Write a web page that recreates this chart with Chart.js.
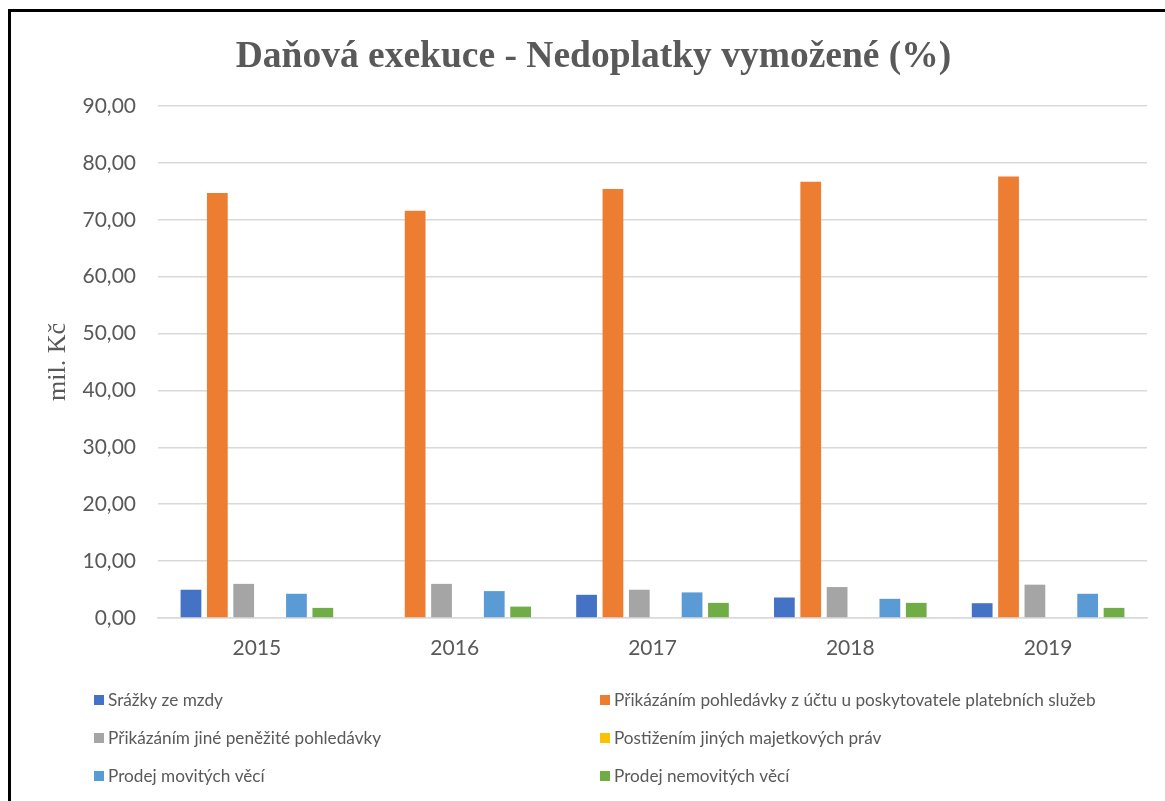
<!DOCTYPE html>
<html>
<head>
<meta charset="utf-8">
<title>Daňová exekuce - Nedoplatky vymožené (%)</title>
<script src="https://cdn.jsdelivr.net/npm/chart.js@4.4.1/dist/chart.umd.min.js"></script>
<style>
  html, body { margin: 0; padding: 0; background: #ffffff; }
  #wrap { position: relative; width: 1165px; height: 801px; overflow: hidden; }
  #wrap canvas { position: absolute; left: 0; top: 0; }
  #frame {
    position: absolute; left: 8px; top: 9px; right: -10px; bottom: -10px;
    border-top: 3px solid #000; border-left: 3px solid #000;
    pointer-events: none;
  }
</style>
</head>
<body>
<div id="wrap">
  <canvas id="chart" width="1165" height="801"></canvas>
  <div id="frame"></div>
</div>
<script>
// Years on the category axis
const years = ['2015', '2016', '2017', '2018', '2019'];

// Recovered arrears by enforcement method (mil. Kč)
const srazkyZeMzdy         = [4.97, 0, 4.08, 3.60, 2.60];
const prikazUctu           = [74.7, 71.6, 75.4, 76.7, 77.6];
const prikazJinePohledavky = [6.00, 6.00, 4.97, 5.44, 5.86];
const postizeniPrav        = [0, 0, 0, 0, 0];
const prodejMovitych       = [4.26, 4.73, 4.50, 3.37, 4.26];
const prodejNemovitych     = [1.78, 2.00, 2.66, 2.66, 1.78];

// Series names
const seriesNames = [
  'Srážky ze mzdy',
  'Přikázáním pohledávky z účtu u poskytovatele platebních služeb',
  'Přikázáním jiné peněžité pohledávky',
  'Postižením jiných majetkových práv',
  'Prodej movitých věcí',
  'Prodej nemovitých věcí'
];

// Value axis range
const yMin = 0, yMax = 90, yStep = 10;

const seriesColors = ['#4472C4', '#ED7D31', '#A5A5A5', '#FFC000', '#5B9BD5', '#70AD47'];
const seriesValues = [srazkyZeMzdy, prikazUctu, prikazJinePohledavky, postizeniPrav, prodejMovitych, prodejNemovitych];

const textGrey = '#595959';
const gridGrey = '#D9D9D9';

// Legend laid out in two columns, filled row by row
const twoColumnLegend = {
  id: 'twoColumnLegend',
  afterDraw(chart, args, opts) {
    const ctx = chart.ctx;
    ctx.save();
    ctx.font = opts.font;
    ctx.textBaseline = 'middle';
    ctx.textAlign = 'left';
    chart.data.datasets.forEach((ds, i) => {
      const x = opts.columns[i % 2];
      const y = opts.rows[Math.floor(i / 2)];
      ctx.fillStyle = ds.backgroundColor;
      ctx.fillRect(x, y - opts.box / 2, opts.box, opts.box);
      ctx.fillStyle = opts.color;
      ctx.fillText(ds.label, x + opts.box + opts.gap, y);
    });
    ctx.restore();
  }
};

Chart.defaults.font.family = 'Lato, "Open Sans", sans-serif';

new Chart(document.getElementById('chart'), {
  type: 'bar',
  data: {
    labels: years,
    datasets: seriesNames.map((name, i) => ({
      label: name,
      data: seriesValues[i],
      backgroundColor: seriesColors[i],
      borderWidth: 0,
      categoryPercentage: 0.8,
      barPercentage: 0.787
    }))
  },
  options: {
    responsive: false,
    animation: false,
    devicePixelRatio: 1,
    layout: { padding: { left: 40, right: 18, top: 0, bottom: 138 } },
    plugins: {
      legend: { display: false },
      tooltip: { enabled: false },
      title: {
        display: true,
        text: 'Daňová exekuce - Nedoplatky vymožené (%)',
        color: textGrey,
        font: { family: '"Liberation Serif", "Times New Roman", serif', size: 37.5, weight: 'bold' },
        padding: { top: 35, bottom: 26 }
      },
      twoColumnLegend: {
        columns: [94, 600],
        rows: [700, 738, 776],
        box: 10,
        gap: 4,
        font: '17.2px Lato, "Open Sans", sans-serif',
        color: textGrey
      }
    },
    scales: {
      x: {
        grid: { display: false, drawTicks: false },
        border: { display: true, color: gridGrey, width: 1.5 },
        ticks: { color: textGrey, font: { size: 21 }, padding: 18 },
        afterFit(scale) { scale.height = 45; }
      },
      y: {
        min: yMin,
        max: yMax,
        grid: { color: gridGrey, lineWidth: 1.5, drawTicks: false },
        border: { display: false },
        ticks: {
          stepSize: yStep,
          color: textGrey,
          font: { size: 21 },
          padding: 22,
          callback: v => v.toFixed(2).replace('.', ',')
        },
        title: {
          display: true,
          text: 'mil. Kč',
          color: textGrey,
          font: { family: '"Liberation Serif", "Times New Roman", serif', size: 26 },
          padding: { top: 3, bottom: 0 }
        },
        afterFit(scale) { scale.width = 118; }
      }
    }
  },
  plugins: [twoColumnLegend]
});
</script>
</body>
</html>
